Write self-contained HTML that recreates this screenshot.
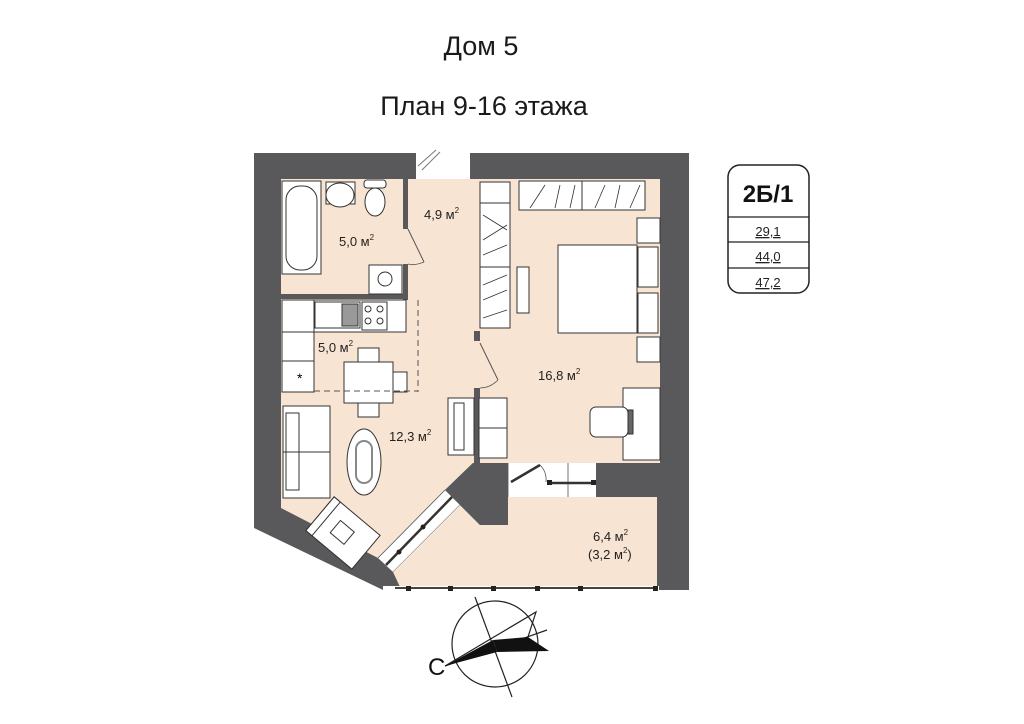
<!DOCTYPE html>
<html><head><meta charset="utf-8"><style>
body{margin:0;background:#fff;}
svg{display:block;font-family:"Liberation Sans",sans-serif;}
</style></head><body>
<svg width="1024" height="724" viewBox="0 0 1024 724" xmlns="http://www.w3.org/2000/svg">
<rect width="1024" height="724" fill="#fff"/>
<text x="481" y="55" font-size="27" text-anchor="middle" fill="#1a1a1a">Дом 5</text>
<text x="484" y="115" font-size="27" text-anchor="middle" fill="#1a1a1a">План 9-16 этажа</text>

<!-- outer walls -->
<polygon points="254,153 689,153 689,590 383,590 254,528" fill="#59595b"/>
<rect x="416" y="150" width="54" height="30" fill="#fff"/>
<!-- main interior -->
<polygon points="281,179 660,179 660,463 473,463 445,490 378,558 281,508" fill="#f8e4d2"/>
<!-- window strip -->
<polygon points="445,490 460,505 393,572 378,558" fill="#fff"/>
<line x1="452" y1="497" x2="386" y2="565" stroke="#333" stroke-width="2.5"/>
<line x1="445" y1="490" x2="378" y2="558" stroke="#555" stroke-width="0.8"/>
<line x1="460" y1="505" x2="393" y2="572" stroke="#555" stroke-width="0.8"/>
<circle cx="423" cy="527" r="2.5" fill="#222"/><circle cx="399" cy="552" r="2.5" fill="#222"/>
<!-- balcony -->
<polygon points="460,505 480,525 508,525 508,497 657,497 657,587 400,587 393,572" fill="#f8e4d2"/>
<rect x="383" y="586" width="276" height="6" fill="#fff"/>
<line x1="395" y1="588" x2="658" y2="588" stroke="#444" stroke-width="2"/>
<g fill="#222"><rect x="406" y="586" width="5" height="5"/><rect x="448" y="586" width="5" height="5"/><rect x="491" y="586" width="5" height="5"/><rect x="535" y="586" width="5" height="5"/><rect x="578" y="586" width="5" height="5"/><rect x="653" y="586" width="5" height="5"/></g>
<!-- opening to balcony -->
<rect x="508" y="463" width="88" height="34" fill="#fff"/>
<line x1="508" y1="463" x2="508" y2="497" stroke="#555" stroke-width="0.8"/>
<line x1="568" y1="463" x2="568" y2="497" stroke="#555" stroke-width="0.8"/>
<line x1="550" y1="483" x2="593" y2="483" stroke="#333" stroke-width="2.5"/>
<rect x="547" y="480" width="5" height="5" fill="#222"/><rect x="591" y="480" width="5" height="5" fill="#222"/>
<line x1="511" y1="482" x2="540" y2="465" stroke="#333" stroke-width="2.5"/>
<path d="M540,465 Q547,472 546,482" fill="none" stroke="#555" stroke-width="0.8"/>
<!-- pillar -->
<polygon points="473,463 508,463 508,525 480,525 445,490" fill="#59595b"/>
<rect x="596" y="463" width="93" height="34" fill="#59595b"/>
<!-- bath walls -->
<rect x="403" y="179" width="5" height="50" fill="#59595b"/>
<rect x="403" y="264" width="5" height="36" fill="#59595b"/>
<rect x="281" y="294" width="127" height="5" fill="#59595b"/>
<line x1="408" y1="229" x2="424" y2="262" stroke="#555" stroke-width="1"/>
<path d="M424,262 Q414,266 408,264" fill="none" stroke="#555" stroke-width="0.8"/>
<!-- bedroom wall -->
<rect x="474" y="331" width="6" height="10" fill="#59595b"/>
<rect x="474" y="388" width="6" height="75" fill="#59595b"/>
<line x1="480" y1="343" x2="498" y2="380" stroke="#555" stroke-width="1"/>
<path d="M498,380 Q490,388 480,388" fill="none" stroke="#555" stroke-width="0.8"/>
<!-- entrance door -->
<line x1="418" y1="166" x2="436" y2="150" stroke="#777" stroke-width="1"/>
<line x1="422" y1="170" x2="440" y2="152" stroke="#777" stroke-width="1"/>

<g fill="#fff" stroke="#333" stroke-width="1">
<!-- bathroom -->
<rect x="282" y="181" width="39" height="93"/>
<rect x="286" y="186" width="31" height="84" rx="14"/>
<rect x="326" y="182" width="29" height="22"/>
<ellipse cx="340" cy="195" rx="14" ry="12"/>
<rect x="364" y="180" width="22" height="8" rx="3"/>
<ellipse cx="375" cy="202" rx="10" ry="14"/>
<rect x="369" y="265" width="33" height="29"/>
<circle cx="385" cy="279" r="7"/>
<!-- kitchen -->
<rect x="282" y="300" width="124" height="32"/>
<rect x="282" y="300" width="32" height="92"/>
<line x1="282" y1="332" x2="314" y2="332"/><line x1="282" y1="361" x2="314" y2="361"/>
<rect x="315" y="302" width="45" height="26"/>
<rect x="342" y="304" width="16" height="22" fill="#999"/>
<rect x="362" y="302" width="25" height="28"/>
<circle cx="368" cy="309" r="3"/><circle cx="380" cy="309" r="3"/><circle cx="368" cy="321" r="3"/><circle cx="380" cy="321" r="3"/>
<rect x="344" y="362" width="49" height="41"/>
<rect x="358" y="348" width="21" height="14"/>
<rect x="358" y="403" width="21" height="14"/>
<rect x="393" y="372" width="14" height="20"/>
<!-- living -->
<rect x="283" y="406" width="47" height="92"/>
<rect x="286" y="413" width="13" height="77"/>
<line x1="283" y1="452" x2="330" y2="452"/>
<ellipse cx="364" cy="462" rx="17" ry="33"/>
<rect x="356" y="441" width="16" height="42" rx="8" fill="none" stroke="#888" stroke-width="2"/>
<g transform="translate(343,533) rotate(40)">
<rect x="-30" y="-22" width="60" height="44"/>
<rect x="-30" y="-22" width="8" height="44"/>
<rect x="-10" y="-8" width="18" height="16"/>
</g>
<rect x="448" y="398" width="26" height="57"/>
<rect x="454" y="403" width="10" height="47"/>
<rect x="479" y="398" width="28" height="60"/>
<line x1="479" y1="428" x2="507" y2="428"/>
<!-- wardrobes -->
<rect x="480" y="182" width="30" height="146"/>
<line x1="480" y1="203" x2="510" y2="203"/><line x1="480" y1="267" x2="510" y2="267"/>
<rect x="517" y="267" width="12" height="46"/>
<rect x="519" y="181" width="126" height="29"/>
<line x1="582" y1="181" x2="582" y2="210"/>
<!-- bed -->
<rect x="558" y="245" width="79" height="88"/>
<rect x="637" y="218" width="23" height="25"/>
<rect x="637" y="337" width="23" height="25"/>
<rect x="638" y="247" width="20" height="40"/>
<rect x="638" y="293" width="20" height="40"/>
<!-- desk -->
<rect x="623" y="388" width="37" height="72"/>
<rect x="590" y="407" width="38" height="30" rx="6"/>
<rect x="628" y="410" width="5" height="24" fill="#666"/>
</g>
<g stroke="#333" stroke-width="0.8">
<line x1="483" y1="215" x2="507" y2="230"/><line x1="483" y1="240" x2="507" y2="225"/><line x1="483" y1="255" x2="507" y2="245"/>
<line x1="483" y1="285" x2="507" y2="275"/><line x1="483" y1="300" x2="507" y2="290"/><line x1="483" y1="318" x2="507" y2="310"/>
<line x1="530" y1="208" x2="545" y2="185"/><line x1="555" y1="208" x2="560" y2="185"/><line x1="570" y1="208" x2="575" y2="185"/>
<line x1="595" y1="208" x2="605" y2="185"/><line x1="615" y1="208" x2="620" y2="185"/><line x1="630" y1="208" x2="640" y2="185"/>
</g>
<line x1="418" y1="300" x2="418" y2="392" stroke="#555" stroke-dasharray="6,4"/>
<line x1="314" y1="391" x2="418" y2="391" stroke="#555" stroke-dasharray="6,4"/>
<text x="297" y="383" font-size="14">*</text>

<g font-size="13" fill="#222">
<text x="424" y="219">4,9 м<tspan font-size="8" dy="-6">2</tspan></text>
<text x="339" y="246">5,0 м<tspan font-size="8" dy="-6">2</tspan></text>
<text x="318" y="352">5,0 м<tspan font-size="8" dy="-6">2</tspan></text>
<text x="538" y="380">16,8 м<tspan font-size="8" dy="-6">2</tspan></text>
<text x="389" y="441">12,3 м<tspan font-size="8" dy="-6">2</tspan></text>
<text x="593" y="541">6,4 м<tspan font-size="8" dy="-6">2</tspan></text>
<text x="588" y="559">(3,2 м<tspan font-size="8" dy="-6">2</tspan><tspan dy="6">)</tspan></text>
</g>

<!-- legend -->
<rect x="728" y="165" width="81" height="128" rx="12" fill="#fff" stroke="#222" stroke-width="1.5"/>
<line x1="728" y1="217" x2="809" y2="217" stroke="#222" stroke-width="1.2"/>
<line x1="728" y1="242" x2="809" y2="242" stroke="#222" stroke-width="1.2"/>
<line x1="728" y1="268" x2="809" y2="268" stroke="#222" stroke-width="1.2"/>
<text x="768" y="202" font-size="24" font-weight="bold" text-anchor="middle" fill="#111">2Б/1</text>
<g font-size="13" text-anchor="middle" fill="#222" text-decoration="underline">
<text x="768" y="236">29,1</text><text x="768" y="261">44,0</text><text x="768" y="287">47,2</text>
</g>

<!-- compass -->
<circle cx="495" cy="644" r="43" fill="none" stroke="#222" stroke-width="1.2"/>
<line x1="475" y1="597" x2="512" y2="697" stroke="#222" stroke-width="1.2"/>
<line x1="445" y1="666" x2="547" y2="630" stroke="#222" stroke-width="1.2"/>
<polygon points="445,666 493,640 497,652" fill="#111"/>
<polygon points="493,640 528,637 549,651 497,652" fill="#111"/>
<polyline points="445,666 536,612 528,637" fill="none" stroke="#222" stroke-width="1.2"/>
<text x="428" y="675" font-size="24" fill="#111">С</text>
</svg>
</body></html>
